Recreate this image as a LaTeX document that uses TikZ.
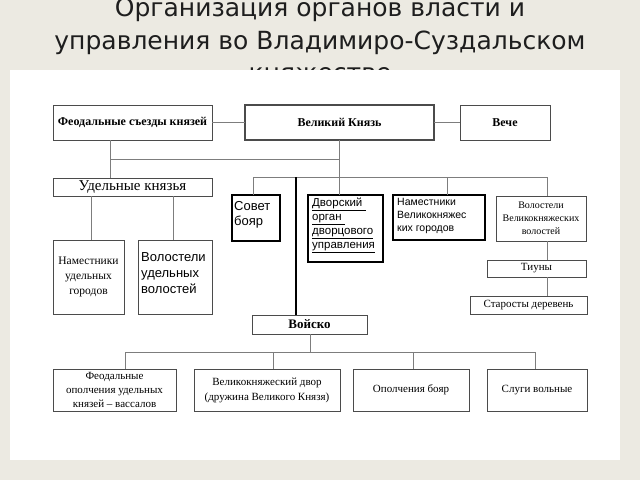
\documentclass[tikz,border=0pt]{standalone}
\usepackage{fontspec}
\setmainfont{Liberation Serif}
\newfontfamily\arialf{Liberation Sans}
\newfontfamily\titlef{DejaVu Sans}
\definecolor{bgc}{RGB}{236,234,226}
\definecolor{lnc}{RGB}{125,125,125}
\definecolor{bdc}{RGB}{75,75,75}
\definecolor{ttc}{RGB}{30,30,30}
\tikzset{
  conn/.style={draw=lnc, line width=0.9pt},
  spine/.style={draw=black, line width=1.5pt},
  box/.style={draw=bdc, fill=white, line width=1pt, inner sep=1pt, outer sep=0pt, anchor=north west, align=center},
  thickbox/.style={box, draw=black, line width=2pt},
  ttl/.style={anchor=base, text=ttc, font=\titlef\fontsize{25}{30}\selectfont, inner sep=0pt},
  tl/.style={anchor=north west, inner sep=0pt, align=left}
}
\begin{document}
\begin{tikzpicture}[x=1pt,y=-1pt]
\fill[bgc] (0,0) rectangle (640,480);
\useasboundingbox (0,0) rectangle (640,480);
% title
\node[ttl] (t1) at (320,16) {Организация органов власти и};
\node[ttl] (t2) at (320,49) {управления во Владимиро-Суздальском};
\node[ttl] (t3) at (320,81) {княжестве};
\fill[white] (10,70) rectangle (620,460);

% coordinates
\coordinate (j1) at (110,159);
\coordinate (j2) at (339,159);
\coordinate (bl) at (253,177);
\coordinate (bn) at (447,177);
\coordinate (br) at (547,177);
\coordinate (tk) at (296,177);
\coordinate (u1) at (91,196);
\coordinate (u2) at (173,196);
\coordinate (w0) at (310,352);
\coordinate (w1) at (125,352);
\coordinate (w2) at (273,352);
\coordinate (w3) at (413,352);
\coordinate (w4) at (535,352);

% boxes
\node[box, minimum width=159pt, minimum height=35pt, font=\bfseries\fontsize{12}{14}\selectfont] (feod) at (53,105) {Феодальные съезды князей};
\node[thickbox, line width=2.2pt, draw=bdc, minimum width=189pt, minimum height=35pt, font=\bfseries\fontsize{12}{14}\selectfont] (vk) at (245,105) {Великий Князь};
\node[box, minimum width=90pt, minimum height=35pt, font=\bfseries\fontsize{12}{14}\selectfont] (veche) at (460,105) {Вече};
\node[box, minimum width=159pt, minimum height=18pt, font=\fontsize{15}{17}\selectfont] (udel) at (53,178) {Удельные князья};
\node[box, minimum width=71pt, minimum height=74pt, font=\fontsize{11.5}{15}\selectfont] (namud) at (53,240) {Наместники\\удельных\\городов};
\node[box, minimum width=74pt, minimum height=74pt] (volud) at (138,240) {};
\node[tl, font=\arialf\fontsize{13}{16}\selectfont] (volud-t) at (141,252) {Волостели\\удельных\\волостей};
\node[thickbox, minimum width=48pt, minimum height=46pt] (sovet) at (232,195) {};
\node[tl, font=\arialf\fontsize{13}{15}\selectfont] (sovet-t) at (234,201) {Совет\\бояр};
\node[thickbox, minimum width=75pt, minimum height=67pt] (dvor) at (308,195) {};
\node[tl, font=\arialf\fontsize{11.5}{14}\selectfont] (dvor-t) at (312,198) {\underline{Дворский\ }\\\underline{орган\ }\\\underline{дворцового}\\\underline{управления}};
\node[thickbox, minimum width=92pt, minimum height=45pt] (namvk) at (393,195) {};
\node[tl, font=\arialf\fontsize{10.5}{13}\selectfont] (namvk-t) at (397,198) {Наместники\\Великокняжес\\ких городов};
\node[box, minimum width=90pt, minimum height=45pt, font=\fontsize{10}{13}\selectfont] (volvk) at (496,196) {Волостели\\Великокняжеских\\волостей};
\node[box, minimum width=99pt, minimum height=17pt, font=\fontsize{11}{12}\selectfont] (tiuny) at (487,260) {Тиуны};
\node[box, minimum width=117pt, minimum height=18pt, font=\fontsize{11}{13}\selectfont] (star) at (470,296) {Старосты деревень};
\node[box, minimum width=115pt, minimum height=19pt, font=\bfseries\fontsize{13}{15}\selectfont] (voisko) at (252,315) {Войско};
\node[box, minimum width=123pt, minimum height=42pt, font=\fontsize{11}{14}\selectfont] (b1) at (53,369) {Феодальные\\ополчения удельных\\князей – вассалов};
\node[box, minimum width=146pt, minimum height=42pt, font=\fontsize{11}{15}\selectfont] (b2) at (194,369) {Великокняжеский двор\\(дружина Великого Князя)};
\node[box, minimum width=116pt, minimum height=42pt, font=\fontsize{11}{15}\selectfont] (b3) at (353,369) {Ополчения бояр};
\node[box, minimum width=100pt, minimum height=42pt, font=\fontsize{11}{15}\selectfont] (b4) at (487,369) {Слуги вольные};

% connectors
\draw[conn] (feod) -- (vk);
\draw[conn] (vk) -- (veche);
\draw[conn] (feod.south -| j1) -- (udel.north -| j1);
\draw[conn] (j1) -- (j2);
\draw[conn] (vk.south -| j2) -- (dvor.north -| j2);
\draw[conn] (bl) -- (br);
\draw[conn] (bl) -- (sovet.north -| bl);
\draw[conn] (bn) -- (namvk.north -| bn);
\draw[conn] (br) -- (volvk.north -| br);
\draw[conn] (volvk.south -| br) -- (tiuny.north -| br);
\draw[conn] (tiuny.south -| br) -- (star.north -| br);
\draw[spine] (tk) -- (voisko.north -| tk);
\draw[conn] (udel.south -| u1) -- (namud.north -| u1);
\draw[conn] (udel.south -| u2) -- (volud.north -| u2);
\draw[conn] (voisko.south -| w0) -- (w0);
\draw[conn] (w1) -- (w4);
\draw[conn] (w1) -- (b1.north -| w1);
\draw[conn] (w2) -- (b2.north -| w2);
\draw[conn] (w3) -- (b3.north -| w3);
\draw[conn] (w4) -- (b4.north -| w4);
\end{tikzpicture}
\end{document}
